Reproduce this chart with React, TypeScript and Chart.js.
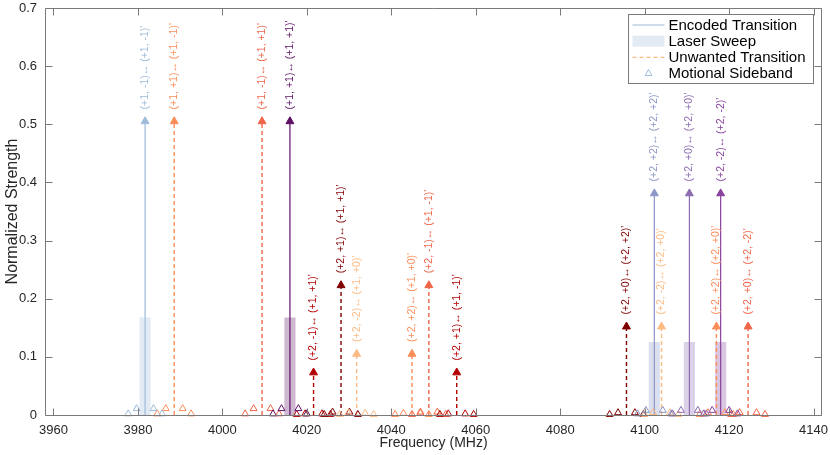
import React, { useEffect, useRef } from 'react';
import { Chart, registerables } from 'chart.js';

Chart.register(...registerables);

const FONT = "'Liberation Sans', Arial, Helvetica, sans-serif";
const TEXT = '#262626';
const AXIS = '#7a7a7a';

// axes
const xTickValues = [3960, 3980, 4000, 4020, 4040, 4060, 4080, 4100, 4120, 4140];
const yTickValues = [0, 0.1, 0.2, 0.3, 0.4, 0.5, 0.6, 0.7];
const xMin = 3958;
const xMax = 4142;
const yMin = 0;
const yMax = 0.7;

// encoded transitions (solid) + laser sweep
const encodedFreq = [3981.7, 4016.0, 4102.3, 4110.6, 4118.0];
const encodedStrength = [0.505, 0.505, 0.381, 0.381, 0.381];
const encodedColor = ['#9ebcda', '#5e0f66', '#8c96c6', '#8c6bb1', '#88419d'];
const encodedLabel = [
  "(+1, -1)↔ (+1, -1)'",
  "(+1, +1)↔ (+1, +1)'",
  "(+2, +2)↔ (+2, +2)'",
  "(+2, +0)↔ (+2, +0)'",
  "(+2, -2)↔ (+2, -2)'",
];
const sweepStrength = [0.167, 0.167, 0.125, 0.125, 0.125];

// unwanted transitions (dashed)
const unwantedFreq = [3988.6, 4009.4, 4021.6, 4028.1, 4031.8, 4044.9, 4048.9, 4055.5, 4095.7, 4104.0, 4117.0, 4124.5];
const unwantedStrength = [0.505, 0.505, 0.073, 0.223, 0.105, 0.105, 0.223, 0.073, 0.152, 0.152, 0.152, 0.152];
const unwantedColor = ['#fc8d59', '#ef6548', '#b30000', '#7f0000', '#fdbb84', '#fc8d59', '#ef6548', '#b30000', '#7f0000', '#fdbb84', '#fc8d59', '#ef6548'];
const unwantedLabel = [
  "(+1, +1)↔ (+1, -1)'",
  "(+1, -1)↔ (+1, +1)'",
  "(+2, -1)↔ (+1, +1)'",
  "(+2, +1)↔ (+1, +1)'",
  "(+2, -2)↔ (+1, +0)'",
  "(+2, +2)↔ (+1, +0)'",
  "(+2, -1)↔ (+1, -1)'",
  "(+2, +1)↔ (+1, -1)'",
  "(+2, +0)↔ (+2, +2)'",
  "(+2, -2)↔ (+2, +0)'",
  "(+2, +2)↔ (+2, +0)'",
  "(+2, +0)↔ (+2, -2)'",
];

// motional sidebands: offsets (MHz) from each transition, and read strengths
const sidebandOffset = [-4, -2, 2, 4];
const encodedSideband = [
  [0.002, 0.011, 0.011, 0.002],
  [0.002, 0.011, 0.011, 0.002],
  [0.002, 0.008, 0.008, 0.002],
  [0.002, 0.008, 0.008, 0.002],
  [0.002, 0.008, 0.008, 0.002],
];
const unwantedSideband = [
  [0.002, 0.011, 0.011, 0.002],
  [0.002, 0.011, 0.011, 0.002],
  [0.001, 0.002, 0.002, 0.001],
  [0.001, 0.005, 0.005, 0.001],
  [0.001, 0.003, 0.003, 0.001],
  [0.001, 0.003, 0.003, 0.001],
  [0.001, 0.005, 0.005, 0.001],
  [0.001, 0.002, 0.002, 0.001],
  [0.001, 0.004, 0.004, 0.001],
  [0.001, 0.004, 0.004, 0.001],
  [0.001, 0.004, 0.004, 0.001],
  [0.001, 0.004, 0.004, 0.001],
];

const legendLabels = ['Encoded Transition', 'Laser Sweep', 'Unwanted Transition', 'Motional Sideband'];
const xTitle = 'Frequency (MHz)';
const yTitle = 'Normalized Strength';

function alpha(hex: string, a: number) {
  const n = parseInt(hex.slice(1), 16);
  return `rgba(${(n >> 16) & 255}, ${(n >> 8) & 255}, ${n & 255}, ${a})`;
}

function stemDataset(f: number, v: number, color: string, dashed: boolean) {
  return {
    type: 'line' as const,
    data: [{ x: f, y: 0 }, { x: f, y: v }],
    borderColor: color,
    borderWidth: dashed ? 1.4 : 1.2,
    borderDash: dashed ? [4, 3] : [],
    pointStyle: 'triangle',
    pointRadius: [0, 4.6],
    pointBackgroundColor: color,
    pointBorderColor: color,
    pointBorderWidth: 1,
    order: 1,
  };
}

function sidebandDataset(freqs: number[], strengths: number[][], colors: string[]) {
  const data: { x: number; y: number }[] = [];
  const cols: string[] = [];
  freqs.forEach((f, i) => {
    sidebandOffset.forEach((o, j) => {
      data.push({ x: f + o, y: strengths[i][j] });
      cols.push(colors[i]);
    });
  });
  return {
    type: 'line' as const,
    data,
    showLine: false,
    pointStyle: 'triangle',
    pointRadius: 4,
    pointBorderWidth: 1,
    pointBackgroundColor: 'rgba(255,255,255,0)',
    pointBorderColor: cols,
    clip: false,
    order: 0,
  };
}

const overlayPlugin = {
  id: 'overlay',
  afterDraw(chart: any) {
    const { ctx, chartArea: a } = chart;
    const xs = chart.scales.x;
    const ys = chart.scales.y;
    ctx.save();
    // annotations
    const label = (freqs: number[], vals: number[], texts: string[], colors: string[]) => {
      freqs.forEach((f, i) => {
        const px = xs.getPixelForValue(f);
        const py = ys.getPixelForValue(vals[i]);
        ctx.save();
        ctx.translate(px, py - 12);
        ctx.rotate(-Math.PI / 2);
        ctx.font = `10.5px ${FONT}`;
        ctx.fillStyle = colors[i];
        ctx.textAlign = 'left';
        ctx.textBaseline = 'middle';
        ctx.fillText(texts[i], 0, 0);
        ctx.restore();
      });
    };
    label(encodedFreq, encodedStrength, encodedLabel, encodedColor);
    label(unwantedFreq, unwantedStrength, unwantedLabel, unwantedColor);

    // box + inward ticks
    const L = Math.round(a.left) + 0.5;
    const R = Math.round(a.right) - 0.5;
    const T = Math.round(a.top) + 0.5;
    const B = Math.round(a.bottom) + 0.5;
    ctx.strokeStyle = AXIS;
    ctx.lineWidth = 1;
    ctx.setLineDash([]);
    ctx.beginPath();
    ctx.rect(L, T, R - L, B - T);
    const tl = 7;
    xs.ticks.forEach((t: any) => {
      const p = Math.round(xs.getPixelForValue(t.value)) + 0.5;
      ctx.moveTo(p, B); ctx.lineTo(p, B - tl);
      ctx.moveTo(p, T); ctx.lineTo(p, T + tl);
    });
    ys.ticks.forEach((t: any) => {
      const p = Math.round(ys.getPixelForValue(t.value)) + 0.5;
      ctx.moveTo(L, p); ctx.lineTo(L + tl, p);
      ctx.moveTo(R, p); ctx.lineTo(R - tl, p);
    });
    ctx.stroke();

    // legend
    const bw = 185, bh = 69;
    const bx = Math.round(a.right) - 9 - bw + 0.5;
    const by = Math.round(a.top) + 6 + 0.5;
    ctx.fillStyle = '#ffffff';
    ctx.fillRect(bx, by, bw, bh);
    ctx.strokeStyle = AXIS;
    ctx.strokeRect(bx, by, bw, bh);
    const rowH = 16.2;
    const sx0 = bx + 4, sx1 = bx + 36;
    ctx.font = `15px ${FONT}`;
    ctx.textAlign = 'left';
    ctx.textBaseline = 'middle';
    legendLabels.forEach((txt, i) => {
      const cy = by + 10.5 + i * rowH;
      if (i === 0) {
        ctx.strokeStyle = encodedColor[0];
        ctx.lineWidth = 1.2;
        ctx.setLineDash([]);
        ctx.beginPath(); ctx.moveTo(sx0, cy); ctx.lineTo(sx1, cy); ctx.stroke();
      } else if (i === 1) {
        ctx.fillStyle = alpha(encodedColor[0], 0.3);
        ctx.fillRect(sx0, cy - 5.5, sx1 - sx0, 11);
      } else if (i === 2) {
        ctx.strokeStyle = unwantedColor[4];
        ctx.lineWidth = 1.4;
        ctx.setLineDash([4, 3]);
        ctx.beginPath(); ctx.moveTo(sx0, cy); ctx.lineTo(sx1, cy); ctx.stroke();
        ctx.setLineDash([]);
      } else {
        const r = 4, cx = (sx0 + sx1) / 2;
        ctx.strokeStyle = encodedColor[0];
        ctx.lineWidth = 1;
        ctx.beginPath();
        for (let k = 0; k < 3; k++) {
          const ang = (k * 2 * Math.PI) / 3;
          const x = cx + Math.sin(ang) * r;
          const y = cy - Math.cos(ang) * r;
          if (k === 0) ctx.moveTo(x, y); else ctx.lineTo(x, y);
        }
        ctx.closePath();
        ctx.stroke();
      }
      ctx.fillStyle = '#000000';
      ctx.fillText(txt, bx + 40, cy + 0.5);
    });
    ctx.restore();
  },
};

export default function App() {
  const ref = useRef<HTMLCanvasElement | null>(null);
  useEffect(() => {
    if (!ref.current) return;
    const datasets: any[] = [
      {
        type: 'bar',
        data: encodedFreq.map((f, i) => ({ x: f, y: sweepStrength[i] })),
        backgroundColor: encodedColor.map((c) => alpha(c, 0.3)),
        borderWidth: 0,
        barThickness: 10.5,
        grouped: false,
        order: 10,
      },
      ...encodedFreq.map((f, i) => stemDataset(f, encodedStrength[i], encodedColor[i], false)),
      ...unwantedFreq.map((f, i) => stemDataset(f, unwantedStrength[i], unwantedColor[i], true)),
      sidebandDataset(encodedFreq, encodedSideband, encodedColor),
      sidebandDataset(unwantedFreq, unwantedSideband, unwantedColor),
    ];
    const chart = new Chart(ref.current, {
      type: 'line',
      data: { datasets },
      options: {
        animation: false,
        responsive: false,
        devicePixelRatio: 1,
        events: [],
        layout: { padding: { left: 0, top: 8, right: 8, bottom: 0 } },
        plugins: { legend: { display: false }, tooltip: { enabled: false } },
        scales: {
          x: {
            type: 'linear',
            min: xMin,
            max: xMax,
            offset: false,
            afterBuildTicks: (s: any) => { s.ticks = xTickValues.map((v) => ({ value: v })); },
            afterFit: (s: any) => { s.height = 40; s.paddingLeft = 0; s.paddingRight = 0; },
            grid: { display: false, drawTicks: false },
            border: { display: false },
            ticks: { font: { family: FONT, size: 13 }, color: TEXT, padding: 8, maxRotation: 0, autoSkip: false, callback: (v: any) => String(v) },
            title: { display: true, text: xTitle, font: { family: FONT, size: 14 }, color: TEXT, padding: { top: 0, bottom: 3 } },
          },
          y: {
            type: 'linear',
            min: yMin,
            max: yMax,
            afterBuildTicks: (s: any) => { s.ticks = yTickValues.map((v) => ({ value: v })); },
            afterFit: (s: any) => { s.width = 45; s.paddingTop = 0; s.paddingBottom = 0; },
            grid: { display: false, drawTicks: false },
            border: { display: false },
            ticks: { font: { family: FONT, size: 13 }, color: TEXT, padding: 8, autoSkip: false, callback: (v: any) => String(Math.round(v * 10) / 10) },
            title: { display: true, text: yTitle, font: { family: FONT, size: 16 }, color: TEXT, padding: { top: 3, bottom: 0 } },
          },
        },
      },
      plugins: [overlayPlugin],
    } as any);
    return () => chart.destroy();
  }, []);
  return (
    <div style={{ position: 'absolute', left: 0, top: 0, width: 830, height: 455, background: '#fff' }}>
      <canvas ref={ref} width={830} height={455} style={{ display: 'block', width: 830, height: 455 }} />
    </div>
  );
}
